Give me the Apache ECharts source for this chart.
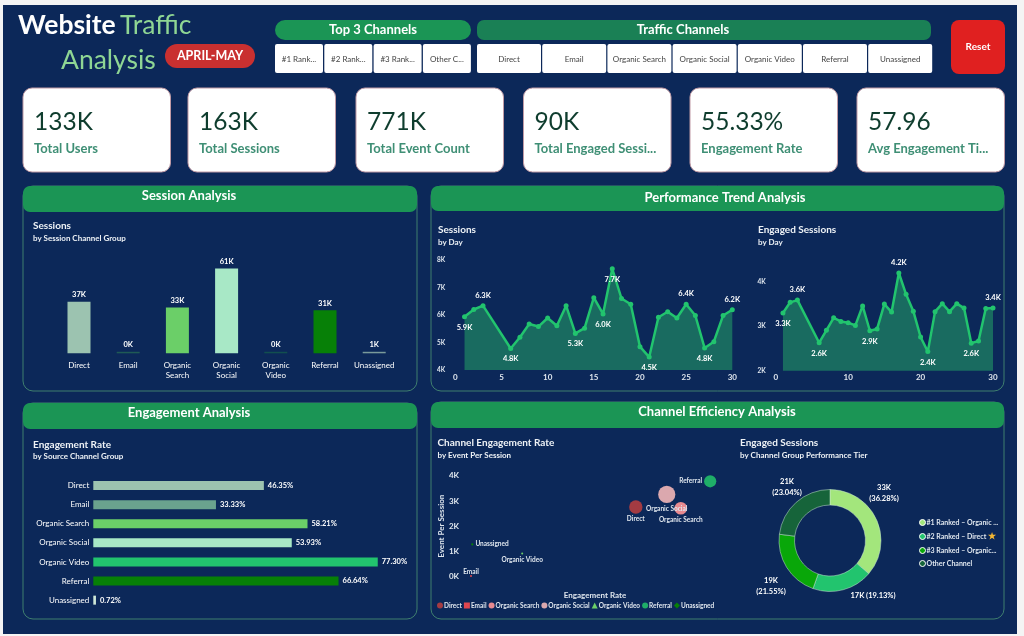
<!DOCTYPE html>
<html>
<head>
<meta charset="utf-8">
<title>Website Traffic Analysis</title>
<script src="https://cdn.jsdelivr.net/npm/echarts@6/dist/echarts.min.js"></script>
<style>
  html, body { margin: 0; padding: 0; background: #f4f4f4; }
  #main { width: 1024px; height: 636px; }
</style>
</head>
<body>
<div id="main"></div>
<script>
// chart values
var channels = ['Direct', 'Email', 'Organic Search', 'Organic Social', 'Organic Video', 'Referral', 'Unassigned'];
var sessionsByChannel = [37, 0, 33, 61, 0, 31, 1];
var engagementRate = [46.35, 33.33, 58.21, 53.93, 77.30, 66.64, 0.72];

var sessionDays = [1, 2, 3, 6, 7, 8, 9, 10, 11, 12, 13, 14, 15, 16, 17, 18, 19, 20, 21, 22, 23, 24, 25, 26, 27, 28, 29, 30];
var sessionsByDay = [5.94, 6.2, 6.34, 4.78, 5.19, 5.67, 5.58, 5.89, 5.61, 6.34, 5.33, 5.52, 6.63, 6.04, 7.68, 6.6, 6.39, 4.85, 4.47, 5.92, 6.12, 5.89, 6.39, 5.98, 4.8, 5.03, 5.98, 6.19];
var sessionsLabelsAbove = [3, 25, 30];
var sessionsLabelsBelow = [1, 6, 13, 16, 17, 21, 27];
var engagedByDay = [3.3, 3.54, 3.59, 2.63, 2.91, 3.19, 3.11, 3.08, 3.02, 3.46, 2.9, 2.94, 3.5, 3.32, 4.2, 3.72, 3.34, 2.76, 2.43, 3.33, 3.51, 3.33, 3.51, 3.41, 2.62, 2.67, 3.4, 3.41];
var engagedLabelsAbove = [3, 17, 30];
var engagedLabelsBelow = [1, 6, 13, 21, 27];

var scatterX = [65.7, 2.3, 83, 77.6, 22, 94.3, 2.8];
var scatterY = [2.76, 0.03, 2.71, 3.26, 0.92, 3.78, 1.28];

var tierNames = ['#1 Ranked – Organic ...', '#2 Ranked – Direct', '#3 Ranked – Organic...', 'Other Channel'];
var tierValues = [33, 17, 19, 21];
var tierPercents = [36.28, 19.13, 21.55, 23.04];

var kpiValues = ['133K', '163K', '771K', '90K', '55.33%', '57.96'];
var kpiLabels = ['Total Users', 'Total Sessions', 'Total Event Count', 'Total Engaged Sessi...', 'Engagement Rate', 'Avg Engagement Ti...'];
var top3Slicers = ['#1 Rank...', '#2 Rank...', '#3 Rank...', 'Other C...'];

var NAVY = '#0c2859';
var FONT = 'Lato, "Noto Sans", sans-serif';
var barColors = ['#9cc3b0', '#6aa38e', '#6bcf68', '#a8e8c6', '#22c46e', '#078007', '#cfe8d8'];
// near-zero session bars are only a faint line in the reference
var sessionBarColors = ['#9cc3b0', '#1f5a55', '#6bcf68', '#a8e8c6', '#124f4f', '#078007', '#7a9a9a'];
var scatterColors = ['#a33b42', '#e0464f', '#e88a90', '#dba8ae', '#6bcf68', '#1fae68', '#078007'];
var scatterIcons = ['circle', 'rect', 'circle', 'circle', 'triangle', 'circle', 'diamond'];
var tierColors = ['#a3e67c', '#22c46e', '#09a709', '#16643a'];

var chart = echarts.init(document.getElementById('main'));
var shapes = [];

function box(x, y, w, h, r, fill, stroke) {
  shapes.push({
    type: 'rect',
    shape: { x: x, y: y, width: w, height: h, r: r },
    style: { fill: fill, stroke: stroke || null, lineWidth: stroke ? 1 : 0 }
  });
}

function label(x, y, text, font, color, align) {
  shapes.push({
    type: 'text',
    style: { x: x, y: y, text: text, font: font + ' ' + FONT, fill: color, align: align || 'left', verticalAlign: 'middle' }
  });
}

// background
box(3, 5, 1014, 629, 0, NAVY);

// title
label(18, 25, 'Website', '700 26.5px', '#ffffff');
label(120, 25, 'Traffic', '400 26.5px', '#8fd694');
label(61, 60, 'Analysis', '400 26.5px', '#8fd694');
box(165, 44, 90, 24, 12, '#c93030');
label(210, 56, 'APRIL-MAY', '700 12.5px', '#ffffff', 'center');

// slicers
box(275, 20, 196, 20, 10, '#1b9555');
label(373, 30, 'Top 3 Channels', '700 13px', '#ffffff', 'center');
top3Slicers.forEach(function (t, i) {
  box(275 + i * 49.3, 44, 48, 29, 2, '#ffffff');
  label(299 + i * 49.3, 59, t, '400 8px', '#444444', 'center');
});
box(477, 20, 454, 20, 7, '#1a8055');
label(683, 29.5, 'Traffic Channels', '700 13px', '#ffffff', 'center');
channels.forEach(function (t, i) {
  box(477 + i * 65.2, 44, 64, 29, 2, '#ffffff');
  label(509 + i * 65.2, 59, t, '400 8px', '#444444', 'center');
});
box(951, 20, 54, 54, 8, '#e02020');
label(978, 47, 'Reset', '700 10px', '#ffffff', 'center');

// kpi cards
var cardX = [23, 188, 356, 523.5, 690, 857];
kpiValues.forEach(function (v, i) {
  box(cardX[i], 88, 147.5, 84, 9, '#ffffff', '#c09aa5');
  label(cardX[i] + 11, 122, v, '400 24.5px', '#0f3d2e');
  label(cardX[i] + 11, 149, kpiLabels[i], '700 13px', '#3f8f75');
});

// panels
function panel(x, y, w, h, headH, title, titleX, titleY) {
  box(x, y, w, h, 10, NAVY, '#3f7f6f');
  box(x, y, w, headH, 7, '#1b9555');
  label(titleX, titleY, title, '700 13px', '#ffffff', 'center');
}
panel(23, 186, 394, 205, 26, 'Session Analysis', 189, 196);
panel(431, 186, 573, 205, 25, 'Performance Trend Analysis', 725, 198);
panel(23, 403, 394, 216, 26, 'Engagement Analysis', 189, 413);
panel(431, 402, 573, 217, 26, 'Channel Efficiency Analysis', 717, 412);

function chartTitle(x, y, title, sub) {
  label(x, y, title, '700 10px', '#eef2f6');
  label(x, y + 12, sub, '700 8px', '#eef2f6');
}
chartTitle(33, 226, 'Sessions', 'by Session Channel Group');
chartTitle(438, 230, 'Sessions', 'by Day');
chartTitle(758, 230, 'Engaged Sessions', 'by Day');
chartTitle(33, 444.5, 'Engagement Rate', 'by Source Channel Group');
chartTitle(437.5, 443, 'Channel Engagement Rate', 'by Event Per Session');
chartTitle(740, 443, 'Engaged Sessions', 'by Channel Group Performance Tier');

// build [day, value] points, with labels only where the picture has them
function trendData(values, above, below) {
  return values.map(function (v, i) {
    var day = sessionDays[i];
    var item = { value: [day, v] };
    if (above.indexOf(day) >= 0) {
      item.label = { show: true, position: 'top' };
    } else if (below.indexOf(day) >= 0) {
      item.label = { show: true, position: 'bottom' };
    }
    return item;
  });
}

function trendSeries(index, values, above, below) {
  return {
    type: 'line',
    name: index ? 'Engaged Sessions' : 'Sessions',
    xAxisIndex: index + 1,
    yAxisIndex: index + 1,
    data: trendData(values, above, below),
    symbol: 'circle',
    symbolSize: 5,
    lineStyle: { color: '#22c46e', width: 2.5 },
    itemStyle: { color: '#22c46e' },
    areaStyle: { color: '#196b60', opacity: 1 },
    label: {
      show: false,
      color: '#ffffff',
      fontFamily: FONT,
      fontSize: 7.5,
      fontWeight: 700,
      distance: 4,
      formatter: function (p) { return p.value[1].toFixed(1) + 'K'; }
    }
  };
}

function valueAxis(min, max, interval, margin, showMax) {
  return {
    type: 'value',
    min: min,
    max: max,
    interval: interval,
    splitLine: { show: false },
    axisLine: { show: false },
    axisTick: { show: false },
    axisLabel: {
      color: '#dfe6ee', fontFamily: FONT, fontSize: 6.5, fontWeight: 700, margin: margin, showMaxLabel: showMax,
      formatter: '{value}K'
    }
  };
}

function dayAxis(gridIndex, interval) {
  return {
    type: 'value',
    gridIndex: gridIndex,
    min: 0,
    max: 30,
    interval: interval,
    splitLine: { show: false },
    axisLine: { show: false },
    axisTick: { show: false },
    axisLabel: { color: '#dfe6ee', fontFamily: FONT, fontSize: 8, fontWeight: 700, margin: 3 }
  };
}

var sessionsY = valueAxis(4, 8, 1, 10, true);
sessionsY.gridIndex = 1;
var engagedY = valueAxis(2, 4.5, 1, 10, false);
engagedY.gridIndex = 2;

var scatterSeries = channels.map(function (name, i) {
  var labelPos = ['bottom', 'top', 'bottom', 'bottom', 'bottom', 'left', 'right'][i];
  return {
    type: 'scatter',
    name: name,
    xAxisIndex: 4,
    yAxisIndex: 4,
    data: [[scatterX[i], scatterY[i], sessionsByChannel[i]]],
    symbol: 'circle',
    symbolSize: function (d) { return Math.max(2, Math.sqrt(d[2]) * 2.2); },
    itemStyle: { color: scatterColors[i], opacity: 1 },
    label: {
      show: true,
      position: labelPos,
      distance: 2,
      offset: name === 'Email' ? [0, 2] : [0, 0],
      formatter: name,
      color: '#dfe6ee',
      fontFamily: FONT,
      fontSize: 6.5,
      fontWeight: 700
    }
  };
});

// pie label spots as in the reference
var pieLabelSpots = [[884, 493], [873, 596], [771, 586], [787, 487]];

chart.setOption({
  animation: false,
  graphic: { elements: shapes },
  grid: [
    { left: 54.4, top: 256, width: 344.4, height: 97.3 },
    { left: 455.3, top: 260, width: 277, height: 110 },
    { left: 775.7, top: 259.7, width: 217.3, height: 111 },
    { left: 93.3, top: 476, width: 294.4, height: 133.7 },
    { left: 465, top: 475.7, width: 260, height: 101 }
  ],
  xAxis: [
    {
      type: 'category',
      data: channels,
      gridIndex: 0,
      axisLine: { show: false },
      axisTick: { show: false },
      axisLabel: {
        color: '#ffffff', fontFamily: FONT, fontSize: 8, margin: 7, interval: 0, lineHeight: 10,
        formatter: function (v) { return v.replace(' ', '\n'); }
      }
    },
    dayAxis(1, 5),
    dayAxis(2, 10),
    { type: 'value', gridIndex: 3, min: 0, max: 80, show: false },
    {
      type: 'value',
      gridIndex: 4,
      min: 0,
      max: 100,
      name: 'Engagement Rate',
      nameLocation: 'middle',
      nameGap: 15,
      nameTextStyle: { color: '#dfe6ee', fontFamily: FONT, fontSize: 8, fontWeight: 700 },
      splitLine: { show: false },
      axisLine: { show: false },
      axisTick: { show: false },
      axisLabel: { show: false }
    }
  ],
  yAxis: [
    { type: 'value', gridIndex: 0, min: 0, max: 70, show: false },
    sessionsY,
    engagedY,
    {
      type: 'category',
      data: channels,
      gridIndex: 3,
      inverse: true,
      axisLine: { show: false },
      axisTick: { show: false },
      axisLabel: { color: '#ffffff', fontFamily: FONT, fontSize: 8, margin: 4, interval: 0 }
    },
    {
      type: 'value',
      gridIndex: 4,
      min: 0,
      max: 4,
      interval: 1,
      name: 'Event Per Session',
      nameLocation: 'middle',
      nameGap: 19,
      nameTextStyle: { color: '#dfe6ee', fontFamily: FONT, fontSize: 8, fontWeight: 700 },
      splitLine: { show: false },
      axisLine: { show: false },
      axisTick: { show: false },
      axisLabel: { color: '#dfe6ee', fontFamily: FONT, fontSize: 8, fontWeight: 700, margin: 6, formatter: '{value}K' }
    }
  ],
  legend: [
    {
      data: channels.map(function (name, i) { return { name: name, icon: scatterIcons[i] }; }),
      left: 437,
      top: 602,
      itemWidth: 6,
      itemHeight: 6,
      itemGap: 2,
      padding: 0,
      selectedMode: false,
      textStyle: { color: '#dfe6ee', fontFamily: FONT, fontSize: 6.5, fontWeight: 700, padding: [0, 0, 0, -4] }
    },
    {
      data: tierNames,
      orient: 'vertical',
      left: 919,
      top: 519,
      itemWidth: 6,
      itemHeight: 6,
      itemGap: 6,
      padding: 0,
      selectedMode: false,
      icon: 'circle',
      itemStyle: { borderColor: '#ffffff', borderWidth: 1 },
      formatter: function (name) {
        return name.indexOf('Direct') >= 0 ? name + ' {star|★}' : name;
      },
      textStyle: {
        color: '#dfe6ee', fontFamily: FONT, fontSize: 7, fontWeight: 700, padding: [0, 0, 0, -4],
        rich: { star: { color: '#f2b632', fontSize: 9 } }
      }
    }
  ],
  series: [
    {
      type: 'bar',
      name: 'Sessions by channel',
      xAxisIndex: 0,
      yAxisIndex: 0,
      barWidth: 23,
      barMinHeight: 1.5,
      data: sessionsByChannel.map(function (v, i) {
        return { value: v, itemStyle: { color: sessionBarColors[i] } };
      }),
      label: {
        show: true,
        position: 'top',
        distance: 3,
        color: '#ffffff',
        fontFamily: FONT,
        fontSize: 7.5,
        fontWeight: 700,
        formatter: '{c}K'
      }
    },
    trendSeries(0, sessionsByDay, sessionsLabelsAbove, sessionsLabelsBelow),
    trendSeries(1, engagedByDay, engagedLabelsAbove, engagedLabelsBelow),
    {
      type: 'bar',
      name: 'Engagement rate',
      xAxisIndex: 3,
      yAxisIndex: 3,
      barWidth: 9,
      data: engagementRate.map(function (v, i) {
        return { value: v, itemStyle: { color: barColors[i] } };
      }),
      label: {
        show: true,
        position: 'right',
        distance: 4,
        color: '#ffffff',
        fontFamily: FONT,
        fontSize: 7.5,
        fontWeight: 700,
        formatter: function (p) { return p.value.toFixed(2) + '%'; }
      }
    }
  ].concat(scatterSeries).concat([
    {
      type: 'pie',
      name: 'Engaged sessions by tier',
      center: [830, 540.5],
      radius: [35.5, 51],
      startAngle: 90,
      data: tierNames.map(function (name, i) {
        return { name: name, value: tierPercents[i], itemStyle: { color: tierColors[i] } };
      }),
      itemStyle: { borderColor: '#c9e6d2', borderWidth: 0.5 },
      label: {
        color: '#ffffff',
        fontFamily: FONT,
        fontSize: 7.5,
        fontWeight: 700,
        lineHeight: 10.5,
        formatter: function (p) {
          var sep = p.dataIndex === 1 ? ' ' : '\n';
          return tierValues[p.dataIndex] + 'K' + sep + '(' + tierPercents[p.dataIndex].toFixed(2) + '%)';
        }
      },
      labelLine: { show: false },
      labelLayout: function (params) {
        var spot = pieLabelSpots[params.dataIndex];
        return { x: spot[0], y: spot[1], align: 'center', verticalAlign: 'middle' };
      }
    }
  ])
});
</script>
</body>
</html>
